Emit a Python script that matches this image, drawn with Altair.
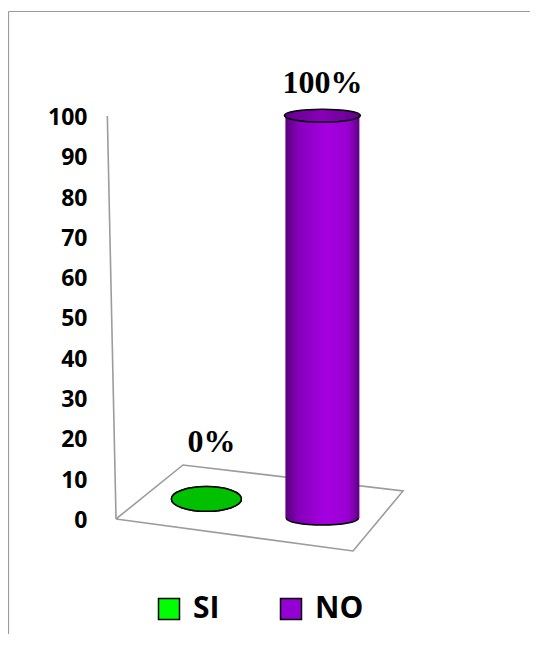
import altair as alt
import pandas as pd

# ---------------- data ----------------
categories = ["SI", "NO"]
values = [0, 100]
value_labels = ["0%", "100%"]
y_ticks = [0, 10, 20, 30, 40, 50, 60, 70, 80, 90, 100]
legend_colors = ["#00ff00", "#9400d3"]

# ---------------- 3D-look layout (in data units) ----------------
X_POS = {"SI": 0.0, "NO": 1.0}          # category slot on the x scale
BASE = {"SI": 5.3, "NO": 0.5}           # floor level under each cylinder (perspective)
FLOOR = [(-0.779, 0.32), (-0.202, 13.73), (1.695, 7.28), (1.264, -7.62), (-0.779, 0.32)]
AXIS_LINE = (-0.854, 100.4, -0.779, 0.32)

PX_PER_X = 116.0  # px per x unit (width 406 / 3.5)


def ellipse_path(ratio):
    k = 0.5523
    h = ratio
    return (f"M-1,0 C-1,{-h*k:.4f} {-k},{-h:.4f} 0,{-h:.4f} "
            f"C{k},{-h:.4f} 1,{-h*k:.4f} 1,0 "
            f"C1,{h*k:.4f} {k},{h:.4f} 0,{h:.4f} "
            f"C{-k},{h:.4f} -1,{h*k:.4f} -1,0 Z")


purple_body = alt.LinearGradient(
    gradient="linear", x1=0, x2=1, y1=0, y2=0,
    stops=[alt.GradientStop(color="#5a007e", offset=0),
           alt.GradientStop(color="#8600bb", offset=0.18),
           alt.GradientStop(color="#a600e2", offset=0.55),
           alt.GradientStop(color="#9800cf", offset=0.85),
           alt.GradientStop(color="#5e0084", offset=1)])
purple_top = alt.LinearGradient(
    gradient="linear", x1=0, x2=1, y1=0, y2=0,
    stops=[alt.GradientStop(color="#62008a", offset=0),
           alt.GradientStop(color="#8800b8", offset=0.5),
           alt.GradientStop(color="#62008a", offset=1)])

STYLE = {
    "SI": dict(body=70, top_w=70, top_r=0.353, bot_w=70, bot_r=0.353,
               body_fill="#00c000", top_fill="#00c000", bot_fill="#00c000",
               dx=5, dy=-47),
    "NO": dict(body=74, top_w=76, top_r=0.17, bot_w=72, bot_r=0.19,
               body_fill=purple_body, top_fill=purple_top, bot_fill=purple_body,
               dx=0, dy=-23),
}

df = pd.DataFrame({"cat": categories, "value": values, "label": value_labels})
df["x"] = df["cat"].map(X_POS)
df["base"] = df["cat"].map(BASE)
df["top"] = df["base"] + df["value"]
df["x1"] = [X_POS[c] - STYLE[c]["body"] / 2 / PX_PER_X for c in categories]
df["x2"] = [X_POS[c] + STYLE[c]["body"] / 2 / PX_PER_X for c in categories]

floor_df = pd.DataFrame({"x": [p[0] for p in FLOOR], "y": [p[1] for p in FLOOR],
                         "o": list(range(len(FLOOR)))})
axis_df = pd.DataFrame({"x": [AXIS_LINE[0]], "y": [AXIS_LINE[1]],
                        "x2": [AXIS_LINE[2]], "y2": [AXIS_LINE[3]]})

xs = alt.Scale(domain=[-0.9, 2.6], nice=False, zero=False)
ys = alt.Scale(domain=[-27, 124], nice=False, zero=False)
YAXIS = alt.Axis(values=y_ticks, title=None, domain=False, ticks=False, grid=False,
                 labelFont="Open Sans", labelFontWeight="bold", labelFontSize=23,
                 labelColor="black", labelPadding=15)


def X(field):
    return alt.X(field, type="quantitative", scale=xs, axis=None)


def Y(field):
    return alt.Y(field, type="quantitative", scale=ys, axis=YAXIS)


GRAY = "#9c9c9c"

frame_left = alt.Chart(axis_df).mark_rule(color=GRAY, strokeWidth=1.2).encode(
    x=alt.value(-93.5), y=alt.value(-9.5), y2=alt.value(640))
frame_top = alt.Chart(axis_df).mark_rule(color=GRAY, strokeWidth=1.2).encode(
    x=alt.value(-93.5), x2=alt.value(440), y=alt.value(-9.5))

floor = alt.Chart(floor_df).mark_line(color=GRAY, strokeWidth=1.6).encode(
    x=X("x"), y=Y("y"), order="o:Q")

axis_line = alt.Chart(axis_df).mark_rule(color=GRAY, strokeWidth=1.6).encode(
    x=X("x"), y=Y("y"), x2="x2:Q", y2="y2:Q")

layers = [frame_left, frame_top, floor, axis_line]

for c in categories:
    st = STYLE[c]
    sub = alt.Chart(df).transform_filter(alt.datum.cat == c)
    bottom = sub.mark_point(shape=ellipse_path(st["bot_r"]), size=st["bot_w"] ** 2,
                            filled=True, fill=st["bot_fill"], stroke="black",
                            strokeWidth=1.5, opacity=1).encode(x=X("x"), y=Y("base"))
    body = sub.mark_rect(fill=st["body_fill"]).encode(
        x=X("x1"), x2="x2:Q", y=Y("base"), y2="top:Q")
    top = sub.mark_point(shape=ellipse_path(st["top_r"]), size=st["top_w"] ** 2,
                         filled=True, fill=st["top_fill"], stroke="black",
                         strokeWidth=1.5, opacity=1).encode(x=X("x"), y=Y("top"))
    text = sub.mark_text(font="Liberation Serif", fontWeight="bold", fontSize=32,
                         baseline="alphabetic", align="center", color="black",
                         dx=st["dx"], dy=st["dy"]).encode(
        x=X("x"), y=Y("top"), text="label:N")
    layers += [bottom, body, top, text]

legend_layer = alt.Chart(df).transform_filter("false").mark_square(
    size=441, opacity=1, stroke="black", strokeWidth=1.5, filled=True).encode(
    color=alt.Color("cat:N", scale=alt.Scale(domain=categories, range=legend_colors),
                    legend=alt.Legend(
                        title=None, orient="none", legendX=52, legendY=573,
                        direction="horizontal", symbolType="square", symbolSize=441,
                        symbolStrokeColor="black", symbolStrokeWidth=1.5,
                        symbolOpacity=1, labelFont="Open Sans",
                        labelFontWeight="bold", labelFontSize=30,
                        labelColor="black", labelOffset=9, columnPadding=56,
                        padding=0)))
layers.append(legend_layer)

chart = alt.layer(*layers).properties(
    width=406, height=608,
    autosize=alt.AutoSizeParams(type="none"),
    padding={"left": 94, "top": 13, "right": 22, "bottom": 5},
).configure_view(strokeWidth=0)

chart.save("out.html", embed_options={"renderer": "svg", "actions": False})
